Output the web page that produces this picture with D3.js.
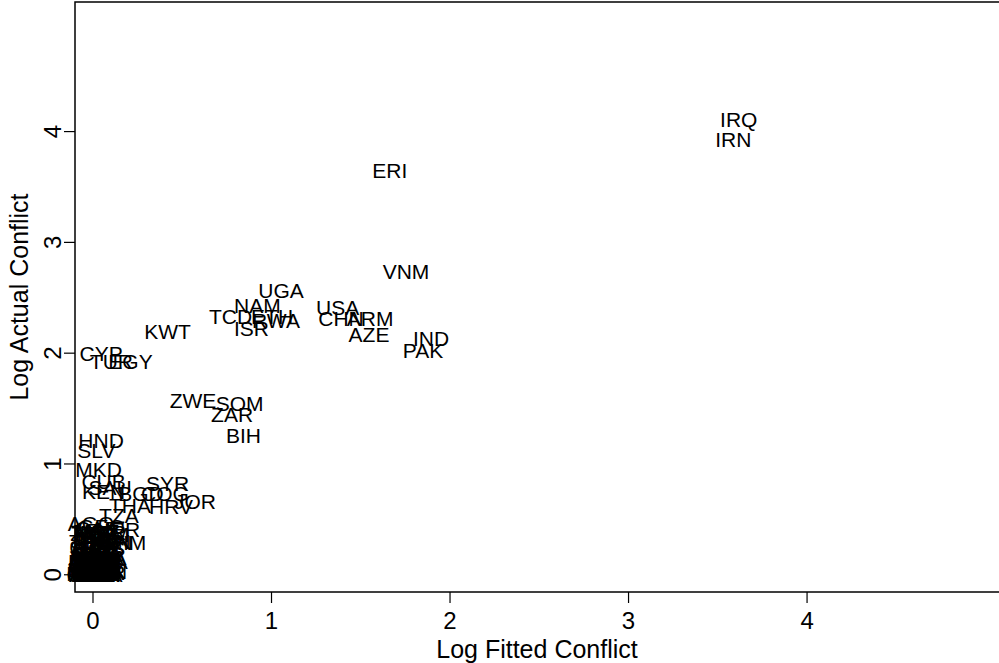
<!DOCTYPE html>
<html>
<head>
<meta charset="utf-8">
<script src="https://cdn.jsdelivr.net/npm/d3@7"></script>
<style>
  body { margin: 0; background: #fff; }
  text { font-family: "Liberation Sans", Arial, Helvetica, sans-serif; fill: #000; }
</style>
</head>
<body>
<script>
// country labels placed at (log fitted conflict, log actual conflict)
const codes = [
  "IRQ","IRN","ERI","VNM","UGA","NAM","TCD","ETH","RWA","ISR",
  "USA","CHN","ARM","AZE","IND","PAK","KWT","CYP","TUR","EGY",
  "ZWE","SOM","ZAR","BIH","HND","SLV","MKD","CUB","SYR","KEN",
  "SAU","BGD","COG","JOR","THA","HRV","TZA",
  "AGO","GEO","CAF","NER","MEX","MLI","KHM","GIN","LKA","SDN",
  "ALB","ARG","AUS","AUT","BEL","BEN","BFA","BGR","BOL","BRA",
  "BWA","CAN","CHE","CHL","CIV","CMR","COL","CRI","CZE","DEU",
  "DNK","DOM","DZA","ECU","ESP","EST","FIN","FRA","GAB","GBR",
  "GHA","GRC","GTM","HTI","HUN","IDN","IRL","ITA","JAM","JPN",
  "KOR","LAO","LBN","MDA","TGO","UKR","NGA","NIC","PER","PHL",
  "POL","PRT","RUS","SEN","SLE","SWE","TUN","URY","VEN","YEM",
  "ZMB","MOZ","MAR","MYS",
  "GMB","GNB","GUY","LBR","LBY","LSO","LTU","LVA","MDG","MMR",
  "MNG","MRT","MWI","NLD","NOR","NPL","NZL","OMN","PAN","PNG",
  "PRK","PRY","ROM","SGP","SVK","SVN","SWZ","TTO","TWN","UZB"
];
const fitted = [
  3.62,3.59,1.665,1.756,1.056,0.924,0.773,1.006,1.028,0.891,
  1.373,1.392,1.555,1.549,1.896,1.852,0.42,0.048,0.106,0.213,
  0.563,0.824,0.782,0.846,0.048,0.022,0.034,0.062,0.42,0.062,
  0.098,0.272,0.406,0.574,0.21,0.44,0.148,
  -0.008,0.05,0.02,0.143,0.03,0.0,0.17,0.12,0.087,0.07,
  0.0,0.02,-0.01,0.03,0.01,0.04,-0.01,0.02,0.04,0.03,
  -0.01,0.0,0.02,0.03,-0.01,0.05,0.03,0.0,0.02,-0.01,
  0.03,0.0,0.04,0.02,-0.01,0.01,0.03,0.0,0.02,0.01,
  0.05,0.02,0.0,0.04,0.02,0.06,0.0,0.03,0.01,0.04,
  0.02,0.05,0.1,0.06,-0.01,0.05,0.04,-0.01,0.04,0.05,
  -0.01,0.02,0.06,-0.01,0.03,0.01,-0.01,0.03,0.04,0.08,
  0.0,0.02,0.06,0.05,
  -0.012,0.008,0.025,-0.005,0.015,0.032,0.0,0.02,-0.01,0.01,
  0.03,-0.015,0.005,0.022,0.012,-0.008,0.028,0.018,0.003,0.035,
  -0.004,0.014,0.026,-0.012,0.009,0.031,0.019,-0.002,0.011,0.024
];
const actual = [
  4.109,3.929,3.649,2.737,2.566,2.43,2.331,2.331,2.295,2.223,
  2.412,2.313,2.313,2.164,2.133,2.024,2.196,1.997,1.925,1.925,
  1.573,1.546,1.449,1.257,1.212,1.122,0.951,0.842,0.824,0.751,
  0.788,0.734,0.734,0.661,0.625,0.616,0.535,
  0.463,0.44,0.42,0.41,0.38,0.4,0.29,0.29,0.12,0.03,
  0.0,0.0,0.0,0.0,0.01,0.0,0.02,0.02,0.01,0.03,
  0.05,0.03,0.06,0.04,0.0,0.02,0.07,0.08,0.1,0.09,
  0.11,0.12,0.09,0.14,0.15,0.17,0.13,0.19,0.18,0.21,
  0.15,0.24,0.25,0.21,0.27,0.13,0.29,0.31,0.33,0.28,
  0.36,0.31,0.3,0.16,0.04,0.06,0.0,0.1,0.12,0.19,
  0.16,0.05,0.24,0.25,0.08,0.14,0.3,0.16,0.03,0.36,
  0.37,0.39,0.38,0.25,
  0.0,0.0,0.0,0.0,0.0,0.0,0.0,0.0,0.01,0.01,
  0.02,0.02,0.03,0.03,0.04,0.04,0.05,0.05,0.06,0.06,
  0.07,0.07,0.08,0.08,0.09,0.09,0.1,0.1,0.11,0.11
];
const xTicks = [0, 1, 2, 3, 4];
const yTicks = [0, 1, 2, 3, 4];

const data = codes.map((c, i) => ({code: c, x: fitted[i], y: actual[i]}));

const width = 999, height = 663;
const plotLeft = 75, plotTop = 2, plotBottom = 592;

const x = d3.scaleLinear().domain([-0.098, 5.078]).range([plotLeft, width]);
const y = d3.scaleLinear().domain([-0.16, 5.165]).range([plotBottom, plotTop]);

const svg = d3.select("body").append("svg")
    .attr("width", width)
    .attr("height", height);

// plot frame (right edge falls outside the picture)
svg.append("rect")
    .attr("x", plotLeft)
    .attr("y", plotTop)
    .attr("width", width - plotLeft + 20)
    .attr("height", plotBottom - plotTop)
    .attr("fill", "none")
    .attr("stroke", "#000")
    .attr("stroke-width", 1.5);

svg.append("g")
    .attr("transform", `translate(0,${plotBottom})`)
    .call(d3.axisBottom(x).tickValues(xTicks).tickFormat(d3.format("d")).tickSize(11).tickPadding(9))
    .call(g => g.select(".domain").remove())
    .call(g => g.selectAll("line").attr("stroke", "#000").attr("stroke-width", 1.2))
    .call(g => g.selectAll("text").attr("font-size", 24).attr("font-family", null));

const yAxis = svg.append("g")
    .attr("transform", `translate(${plotLeft},0)`)
    .call(d3.axisLeft(y).tickValues(yTicks).tickFormat(d3.format("d")).tickSize(11))
    .call(g => g.select(".domain").remove())
    .call(g => g.selectAll("line").attr("stroke", "#000").attr("stroke-width", 1.2));

yAxis.selectAll("text")
    .attr("font-size", 24)
    .attr("font-family", null)
    .attr("x", null)
    .attr("dy", null)
    .attr("text-anchor", "middle")
    .attr("transform", "translate(-14,0) rotate(-90)");

svg.append("text")
    .attr("x", (plotLeft + width) / 2)
    .attr("y", 658)
    .attr("text-anchor", "middle")
    .attr("font-size", 25)
    .text("Log Fitted Conflict");

svg.append("text")
    .attr("transform", `translate(28,${(plotTop + plotBottom) / 2}) rotate(-90)`)
    .attr("text-anchor", "middle")
    .attr("font-size", 25)
    .text("Log Actual Conflict");

svg.append("g")
  .selectAll("text")
  .data(data)
  .join("text")
    .attr("x", d => x(d.x))
    .attr("y", d => y(d.y))
    .attr("dy", "0.38em")
    .attr("text-anchor", "middle")
    .attr("font-size", 21)
    .text(d => d.code);
</script>
</body>
</html>
